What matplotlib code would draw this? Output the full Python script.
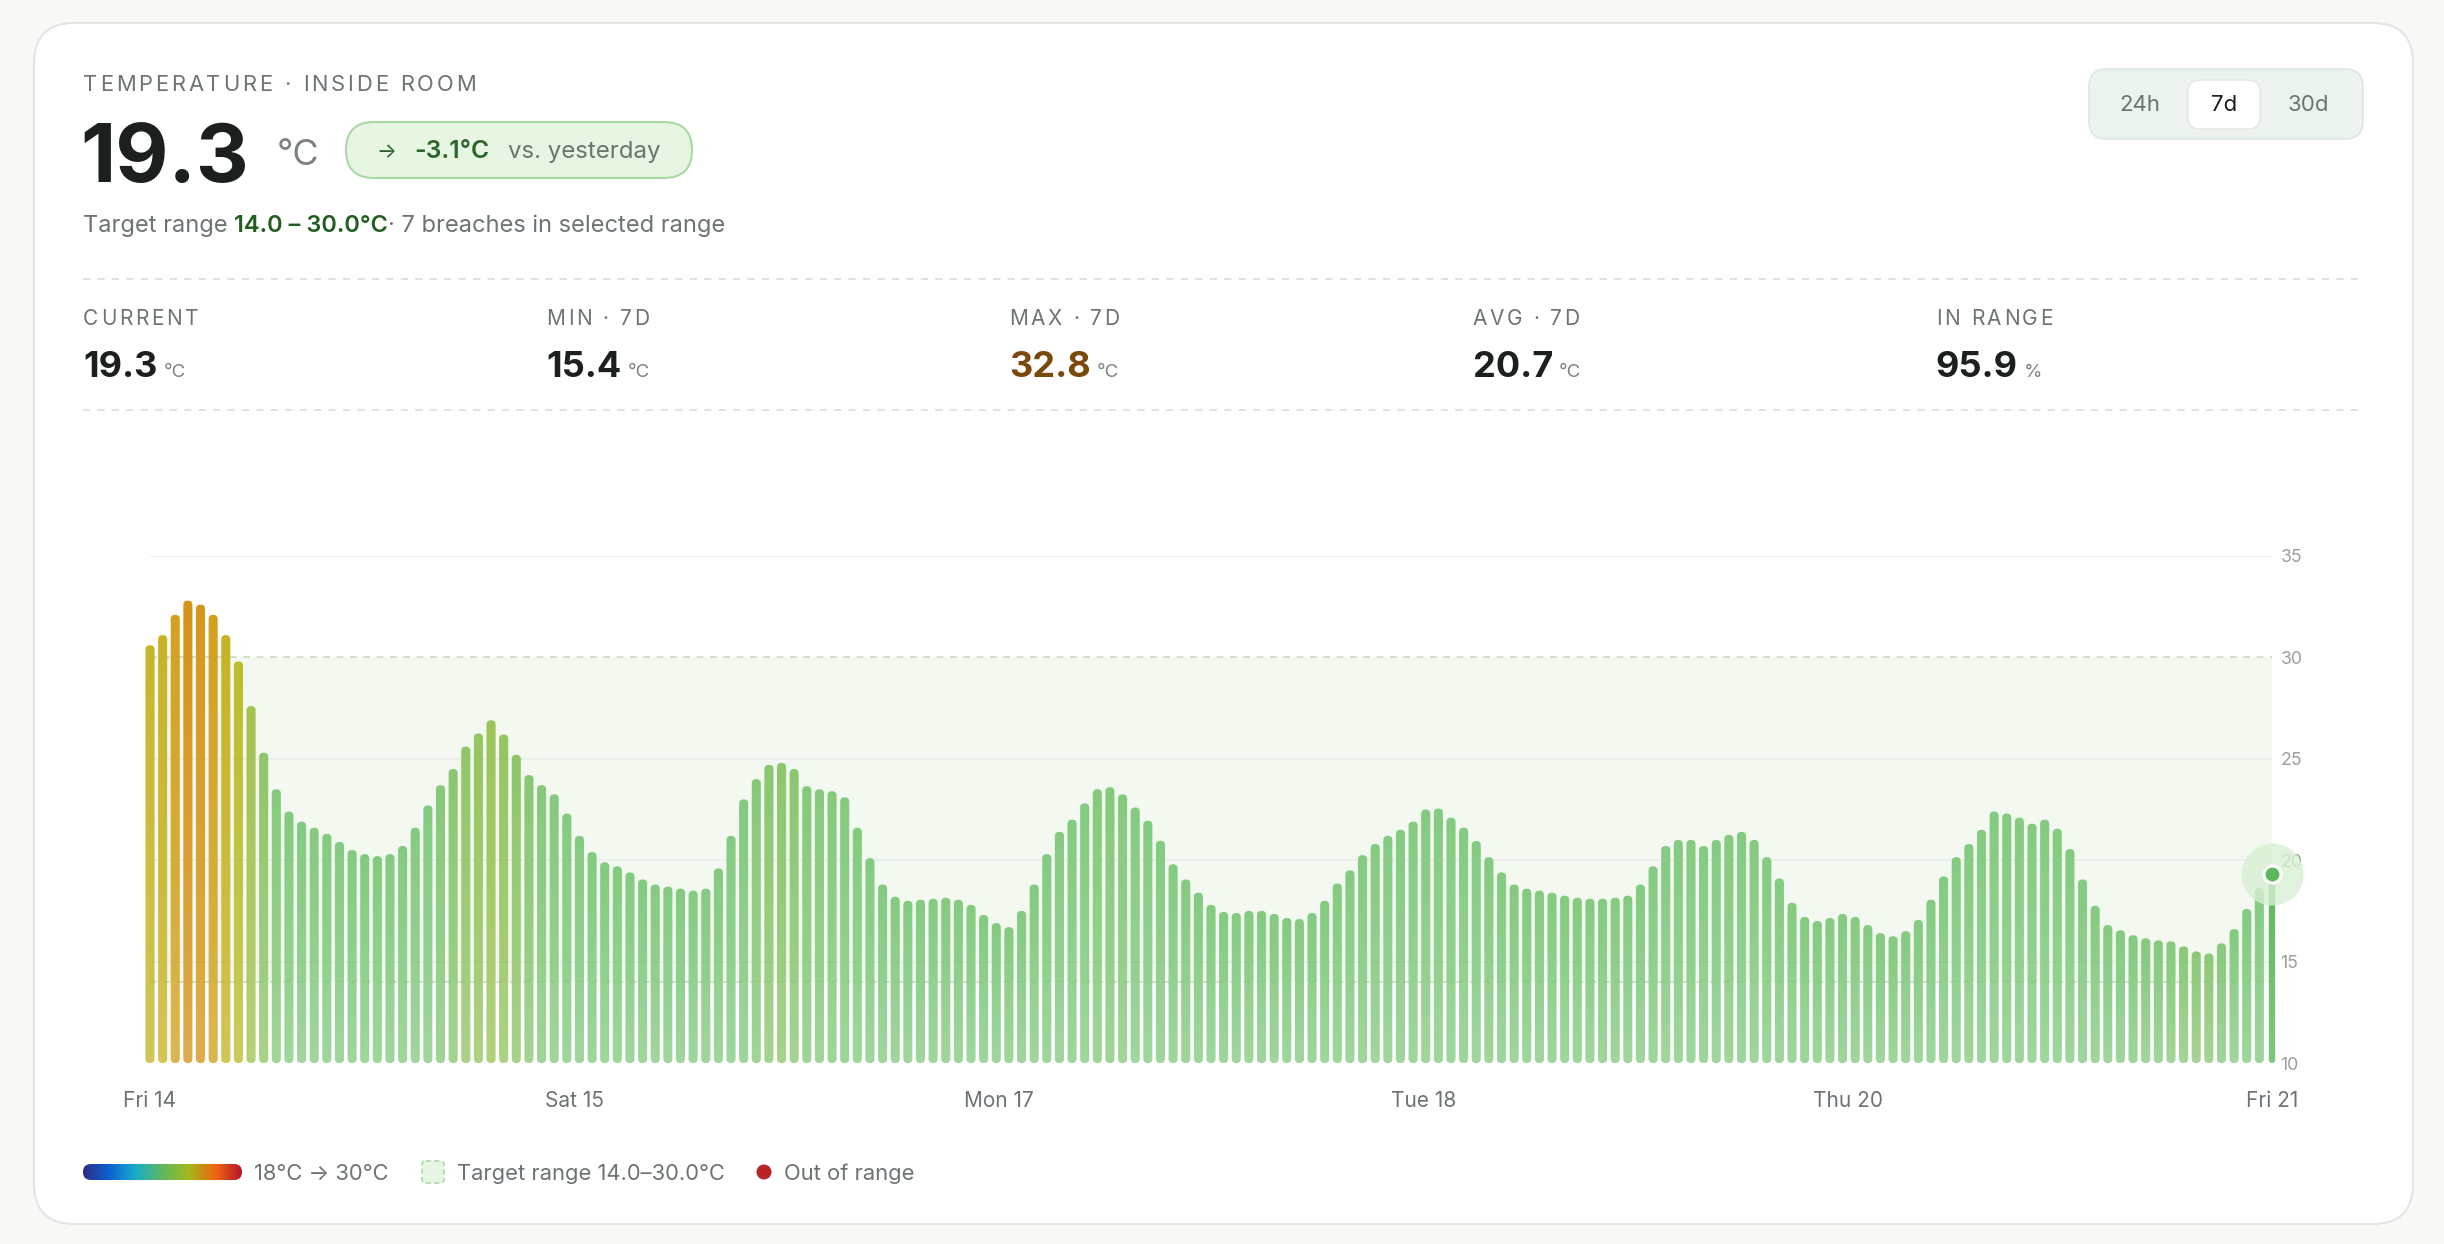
import numpy as np
import matplotlib
matplotlib.use('Agg')
import matplotlib.pyplot as plt
from matplotlib.patches import FancyBboxPatch, Circle
from matplotlib.path import Path
from matplotlib.colors import LinearSegmentedColormap, to_rgba

plt.rcParams['font.family'] = ['Inter', 'DejaVu Sans']

# hourly readings, Fri 14 -> Fri 21 (169 bars)
temps = [30.6, 31.1, 32.1, 32.8, 32.6, 32.1, 31.1, 29.8, 27.6, 25.3,
         23.5, 22.4, 21.9, 21.6, 21.3, 20.9, 20.5, 20.3, 20.2, 20.3,
         20.7, 21.6, 22.7, 23.7, 24.5, 25.6, 26.25, 26.9, 26.2, 25.2,
         24.2, 23.7, 23.25, 22.3, 21.2, 20.4, 19.9, 19.7, 19.4, 19.05,
         18.8, 18.7, 18.6, 18.5, 18.6, 19.6, 21.2, 23.0, 24.0, 24.7,
         24.8, 24.5, 23.65, 23.5, 23.4, 23.1, 21.6, 20.1, 18.8, 18.2,
         18.0, 18.05, 18.1, 18.15, 18.05, 17.8, 17.3, 16.9, 16.7, 17.5,
         18.8, 20.3, 21.4, 22.0, 22.8, 23.5, 23.6, 23.25, 22.6, 21.95,
         20.96, 19.8, 19.05, 18.4, 17.8, 17.45, 17.4, 17.5, 17.5, 17.35,
         17.15, 17.1, 17.4, 18.0, 18.85, 19.5, 20.25, 20.8, 21.2, 21.5,
         21.9, 22.5, 22.55, 22.1, 21.6, 20.95, 20.15, 19.4, 18.8, 18.6,
         18.5, 18.4, 18.25, 18.15, 18.1, 18.1, 18.15, 18.25, 18.8, 19.7,
         20.7, 21.0, 21.0, 20.7, 21.0, 21.25, 21.4, 21.0, 20.15, 19.1,
         17.9, 17.2, 17.0, 17.15, 17.35, 17.2, 16.8, 16.4, 16.25, 16.5,
         17.05, 18.05, 19.2, 20.15, 20.8, 21.5, 22.4, 22.3, 22.1, 21.8,
         22.0, 21.55, 20.55, 19.05, 17.75, 16.8, 16.55, 16.3, 16.15, 16.05,
         16.0, 15.75, 15.5, 15.4, 15.9, 16.6, 17.6, 18.65, 19.3]
tick_hours = [0, 33.6, 67.2, 100.8, 134.4, 168]
tick_labels = ['Fri 14', 'Sat 15', 'Mon 17', 'Tue 18', 'Thu 20', 'Fri 21']
y_ticks = [10, 15, 20, 25, 30, 35]
target_low, target_high = 14.0, 30.0
stat_labels = ['CURRENT', 'MIN · 7D', 'MAX · 7D', 'AVG · 7D', 'IN RANGE']
stat_values = ['19.3', '15.4', '32.8', '20.7', '95.9']
stat_units = ['°C', '°C', '°C', '°C', '%']
current = '19.3'
delta = '-3.1°C'
breaches = 7
ranges = ['24h', '7d', '30d']

# colours
INK = '#1b201d'
MUTED = '#6c7470'
FAINT = '#9a9f9b'
DARKGREEN = '#225e20'

bar_stops = [(14, '#a6c862'), (15.2, '#90c874'), (16.3, '#83cb80'), (23.0, '#83cb80'),
             (25.0, '#8dc76b'), (27.0, '#9cc458'), (28.5, '#abc244'), (30.0, '#bdbd2c'),
             (31.0, '#c8b426'), (32.0, '#d2a41e'), (33.0, '#d88f18'), (34, '#d88418')]
cmap = LinearSegmentedColormap.from_list('temp', [((v - 14) / 20, c) for v, c in bar_stops])
legend_cmap = LinearSegmentedColormap.from_list(
    'leg', ['#2c2c84', '#0d64d0', '#19aec8', '#5fb85e', '#a3b81c', '#f0650f', '#b5172b'])

W, H = 2444, 1244
fig = plt.figure(figsize=(W / 100, H / 100), dpi=100, facecolor='#f8f8f6')
bg = fig.add_axes([0, 0, 1, 1])
bg.set_xlim(0, W)
bg.set_ylim(H, 0)
bg.axis('off')
renderer = fig.canvas.get_renderer()

# card
bg.add_patch(FancyBboxPatch((34, 23), 2379, 1201, boxstyle='round,pad=0,rounding_size=40',
                            fc='white', ec='#e4e4e0', lw=1.5))


def put(x, y, s, **kw):
    t = bg.text(x, y, s, va='baseline', **kw)
    return x + t.get_window_extent(renderer).width


def spaced(x, y, s, track, size, **kw):
    for ch in s:
        if ch == ' ':
            x += size / 0.72 * 0.28 + track
            continue
        x = put(x, y, ch, fontsize=size, **kw) + track
    return x


# header
spaced(83, 91, 'TEMPERATURE · INSIDE ROOM', 2.9, 15.8, color=MUTED)
put(80, 182, current, fontsize=59, fontweight='bold', color=INK)
put(277, 165, '°C', fontsize=26, color='#7b837e')

bg.add_patch(FancyBboxPatch((346, 122), 346, 56, boxstyle='round,pad=0,rounding_size=28',
                            fc='#e6f6e2', ec='#a9d9a2', lw=1.5))
put(376, 158, '→', fontsize=15, color='#2f5f2d')
put(414, 158, delta, fontsize=17.8, fontweight='semibold', color='#2a6627')
put(508, 158, 'vs. yesterday', fontsize=17.3, color=MUTED)

x = put(83, 232, 'Target range', fontsize=17, color=MUTED)
x = put(x + 6, 232, f'{target_low:.1f} – {target_high:.1f}°C', fontsize=17,
        fontweight='semibold', color=DARKGREEN)
put(x, 232, f'· {breaches} breaches in selected range', fontsize=17, color=MUTED)

# range selector
bg.add_patch(FancyBboxPatch((2089, 69), 274, 70, boxstyle='round,pad=0,rounding_size=18',
                            fc='#ecf3ee', ec='#dde7df', lw=1.2))
bg.add_patch(FancyBboxPatch((2188, 80), 72, 49, boxstyle='round,pad=0,rounding_size=12',
                            fc='white', ec='#e1e7e2', lw=1))
for lab, cx in zip(ranges, [2140, 2224, 2308]):
    bg.text(cx, 111, lab, ha='center', va='baseline', fontsize=16,
            color=INK if lab == '7d' else MUTED)

# stats row
for yl in (279, 410):
    bg.plot([83, 2363], [yl, yl], color='#dedede', lw=1.3, dashes=(4, 4))
for i, (lab, val, unit) in enumerate(zip(stat_labels, stat_values, stat_units)):
    sx = 83 + i * 463.2
    spaced(sx, 325, lab, 2.6, 15, color=MUTED)
    col = '#7a4808' if lab.startswith('MAX') else INK
    ex = put(sx, 377, val, fontsize=26, fontweight='bold', color=col)
    put(ex + 6, 377, unit, fontsize=13.5, color='#7b837e')

# chart
n = len(temps)
hours = np.arange(n)
x0_px, x1_px, y10_px, y35_px = 150, 2272, 1063, 556
px_x = (x1_px - x0_px) / (n - 1)
px_y = (y10_px - y35_px) / 25
pad = 0.45
ax = fig.add_axes([(x0_px - pad * px_x) / W, (H - y10_px) / H,
                   (x1_px - x0_px + 2 * pad * px_x) / W, (y10_px - y35_px) / H])
ax.set_facecolor('none')
for s in ax.spines.values():
    s.set_visible(False)

ax.fill_between([0, n - 1], target_low, target_high, color='#f3f9f1', lw=0, zorder=0)
ax.hlines([15, 20, 25, 35], 0, n - 1, colors='#ececec', lw=1.2, zorder=1)
ax.hlines([target_low, target_high], 0, n - 1, colors='#c6dcc6', linestyles=(0, (4, 4)),
          lw=1.2, zorder=1)

aspect = px_x / px_y
paths = []
for h, t in zip(hours, temps):
    w = 0.5 if h == n - 1 else 0.72
    p = FancyBboxPatch((h - w / 2, 10), w, t - 10,
                       boxstyle=f'round,pad=0,rounding_size={w / 2 * 0.95}',
                       mutation_aspect=aspect)
    paths.append(p.get_path())
clip = Path.make_compound_path(*paths)

vals = np.array(temps)
rows = 500
yy = 10 + (np.arange(rows) + 0.5) * 25 / rows
frac = np.clip((yy[:, None] - 10) / (vals[None, :] - 10), 0, 1)
img = np.repeat(cmap(np.clip((vals - 14) / 20, 0, 1))[None, :, :], rows, axis=0)
img[:, -1, :3] = to_rgba('#5cb85c')[:3]
img[..., 3] = 0.78 + 0.22 * frac
im = ax.imshow(img, extent=(-0.5, n - 0.5, 10, 35), origin='lower', aspect='auto',
               interpolation='nearest', zorder=3)
im.set_clip_path(clip, transform=ax.transData)

ax.scatter([n - 1], [temps[-1]], s=2000, color='#d8efd3', alpha=0.8, lw=0,
           zorder=4, clip_on=False)
ax.scatter([n - 1], [temps[-1]], s=150, color='#5cb85c', edgecolors='white',
           linewidths=2.2, zorder=5, clip_on=False)

ax.set_xlim(-pad, n - 1 + pad)
ax.set_ylim(10, 35)
ax.set_xticks(tick_hours, tick_labels)
ax.tick_params(axis='x', length=0, pad=20, labelsize=15, labelcolor=MUTED)
ax.yaxis.tick_right()
ax.set_yticks(y_ticks)
ax.tick_params(axis='y', length=0, pad=2, labelsize=12.8, labelcolor=FAINT)

# legend
grad = bg.imshow(legend_cmap(np.linspace(0, 1, 256))[None, :, :], extent=(83, 242, 1180, 1164),
                 aspect='auto', zorder=2)
gclip = FancyBboxPatch((83, 1164), 159, 16, boxstyle='round,pad=0,rounding_size=8',
                       fc='none', ec='none')
bg.add_patch(gclip)
grad.set_clip_path(gclip)
bg.set_xlim(0, W)
bg.set_ylim(H, 0)
put(254, 1180, '18°C → 30°C', fontsize=15.8, color=MUTED)
bg.add_patch(FancyBboxPatch((422, 1161), 22, 22, boxstyle='round,pad=0,rounding_size=4',
                            fc='#e6f5e4', ec='#a9d7a5', lw=1.2, ls=(0, (3, 2))))
put(457, 1180, f'Target range {target_low:.1f}–{target_high:.1f}°C', fontsize=15.8, color=MUTED)
bg.add_patch(Circle((764, 1172), 7.5, fc='#b8232a', ec='none'))
put(784, 1180, 'Out of range', fontsize=15.8, color=MUTED)

fig.savefig('out.png', dpi=100, facecolor=fig.get_facecolor())
